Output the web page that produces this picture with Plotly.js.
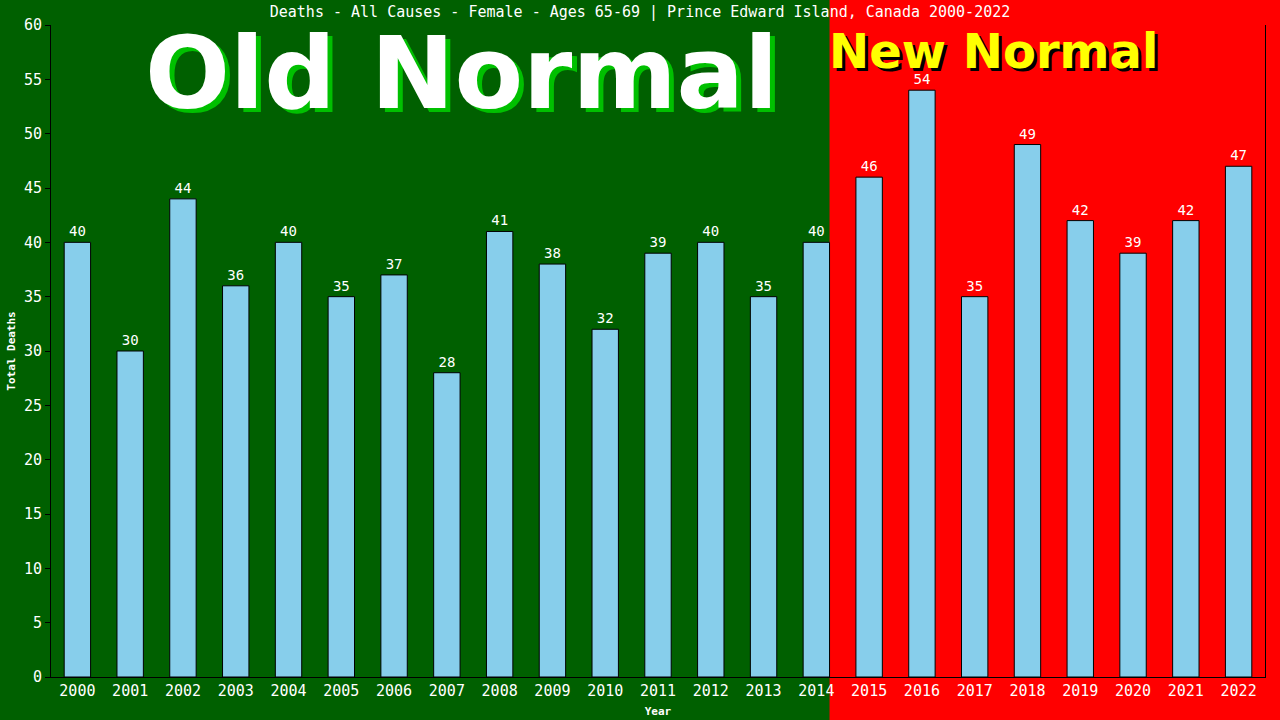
<!DOCTYPE html>
<html>
<head>
<meta charset="utf-8">
<script src="https://cdn.plot.ly/plotly-3.0.1.min.js"></script>
<style>
  html, body { margin: 0; padding: 0; background: #006000; }
  #chart { width: 1280px; height: 720px; }
</style>
</head>
<body>
<div id="chart"></div>
<script>
const years = ['2000','2001','2002','2003','2004','2005','2006','2007','2008','2009','2010','2011',
               '2012','2013','2014','2015','2016','2017','2018','2019','2020','2021','2022'];
const deaths = [40, 30, 44, 36, 40, 35, 37, 28, 41, 38, 32, 39, 40, 35, 40, 46, 54, 35, 49, 42, 39, 42, 47];
const yTicks = [0, 5, 10, 15, 20, 25, 30, 35, 40, 45, 50, 55, 60];

// new normal starts just after the 2014 bar
const splitFrac = (14.25 + 0.5) / years.length;

const mono = '"DejaVu Sans Mono", "Liberation Mono", monospace';
const big = 'Verdana, "DejaVu Sans", sans-serif';

const bars = {
    x: years,
    y: deaths,
    type: 'bar',
    width: 0.5,
    marker: { color: '#87CEEB', line: { color: '#000000', width: 1 } },
    text: deaths.map(String),
    textposition: 'outside',
    cliponaxis: false,
    textfont: { color: '#ffffff', family: mono, size: 14 },
    hoverinfo: 'skip'
};

function label(txt, x, y, size, color, dx, dy) {
    return { xref: 'paper', yref: 'paper', x: x, y: y, xanchor: 'center', yanchor: 'middle',
             text: '<b>' + txt + '</b>', showarrow: false, xshift: dx, yshift: dy,
             font: { family: big, size: size, color: color } };
}

Plotly.newPlot('chart', [bars], {
    width: 1280,
    height: 720,
    showlegend: false,
    paper_bgcolor: '#006000',
    plot_bgcolor: 'rgba(0,0,0,0)',
    margin: { l: 51, r: 15, t: 25, b: 43 },
    title: {
        text: 'Deaths - All Causes - Female - Ages 65-69 | Prince Edward Island, Canada 2000-2022',
        font: { color: '#ffffff', family: mono, size: 15 },
        x: 0.5, xanchor: 'center', y: 0.983, yanchor: 'middle'
    },
    xaxis: {
        type: 'category',
        range: [-0.5, years.length - 0.5],
        showline: true, linecolor: '#000000', linewidth: 1,
        ticks: '', showgrid: false, zeroline: false,
        tickfont: { color: '#ffffff', family: mono, size: 15 },
        title: { text: '<b>Year</b>', font: { color: '#ffffff', family: mono, size: 11 }, standoff: 8 }
    },
    yaxis: {
        range: [0, 60],
        tickvals: yTicks,
        showline: true, linecolor: '#000000', linewidth: 1, mirror: true,
        ticks: 'outside', tickcolor: '#000000', ticklen: 5, tickwidth: 1,
        showgrid: false, zeroline: false,
        tickfont: { color: '#ffffff', family: mono, size: 15 },
        title: { text: '<b>Total Deaths</b>', font: { color: '#ffffff', family: mono, size: 11 }, standoff: 6 }
    },
    shapes: [
        { type: 'rect', xref: 'paper', yref: 'paper', x0: splitFrac, x1: 1.1, y0: -0.2, y1: 1.1,
          fillcolor: '#ff0000', line: { width: 0 }, layer: 'below' }
    ],
    annotations: [
        label('Old Normal', 0.3385, 0.926, 100, '#00c000', 5, -4),
        label('Old Normal', 0.3385, 0.926, 100, '#ffffff', 0, 0),
        label('New Normal', 0.776, 0.960, 48, '#000000', 3, -3),
        label('New Normal', 0.776, 0.960, 48, '#ffff00', 0, 0)
    ]
}, { displayModeBar: false, staticPlot: true });
</script>
</body>
</html>
